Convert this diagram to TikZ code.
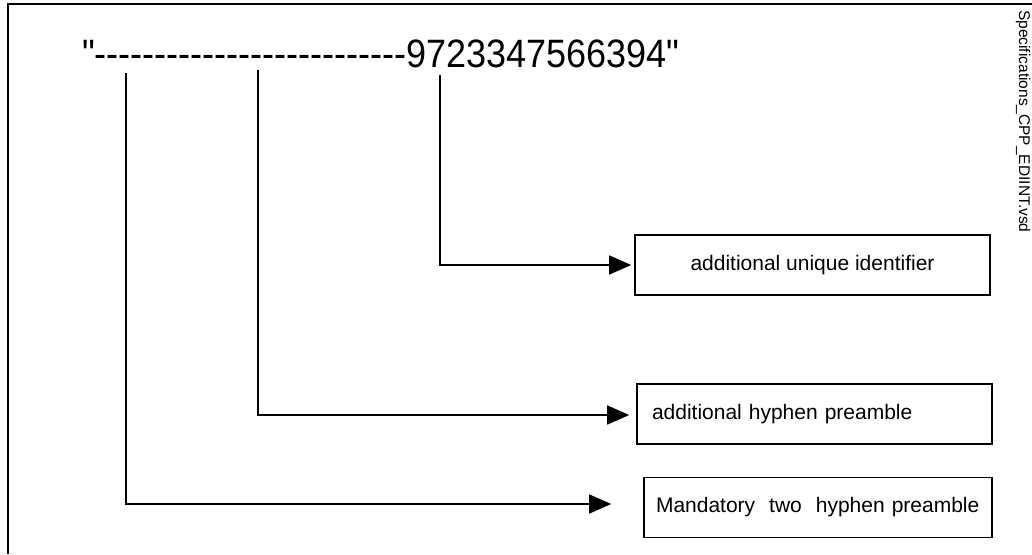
\documentclass[tikz,border=0pt]{standalone}
\usepackage{fontspec}
\setmainfont{Liberation Sans}
\usetikzlibrary{arrows.meta}
% straight double quote, set as a glyph so no text mapping turns it curly
\newcommand{\straightquote}{\XeTeXglyph\XeTeXcharglyph"22\relax}
\begin{document}
\begin{tikzpicture}[x=1pt,y=-1pt,
  wire/.style={line width=1.6pt},
  tip/.style={wire,-{Triangle[length=22pt,width=19pt]}},
  label/.style={draw,line width=1.6pt,minimum height=60pt,inner ysep=0pt,
    font=\fontsize{21}{25}\selectfont}]
\useasboundingbox (0,0) rectangle (1032,554);
% sheet border (open towards the right and bottom)
\draw[line width=2.2pt] (8,554) -- (8,4) -- (1032,4);
% file name along the right edge
\node[rotate=-90,anchor=base west,inner sep=0pt,font=\fontsize{15.5}{15.5}\selectfont]
  (file) at (1019,10) {Specifications\_CPP\_EDIINT.vsd};
% identifier string
\node[anchor=base west,inner sep=0pt,font=\fontsize{36}{36}\selectfont]
  (ident) at (82,67) {\scalebox{1}[1.1]{\straightquote-{}-{}-{}-{}-{}-{}-{}-{}-{}-{}-{}-{}-{}-{}-{}-{}-{}-{}-{}-{}-{}-{}-{}-{}-{}-{}9723347566394\straightquote}};
% description boxes
\node[label,minimum width=355pt,align=center] (uid) at (812.5,265) {additional unique identifier};
\node[label,text width=325pt,inner xsep=15pt,align=left] (hyp) at (814.5,414) {additional hyphen preamble};
\node[label,text width=324pt,inner xsep=12pt,align=left] (mand) at (818,507.5) {Mandatory\ \ two\ \ hyphen preamble};
% start points of the leader lines
\coordinate (s1) at (126,73);
\coordinate (s2) at (258,70);
\coordinate (s3) at (440,75);
% leader lines
\draw[tip] (s3) |- ([xshift=-3pt]uid.west);
\draw[tip] (s2) |- ([xshift=-7pt,yshift=-1pt]hyp.west);
\draw[tip] (s1) |- ([xshift=-32pt,yshift=3.5pt]mand.west);
\end{tikzpicture}
\end{document}
